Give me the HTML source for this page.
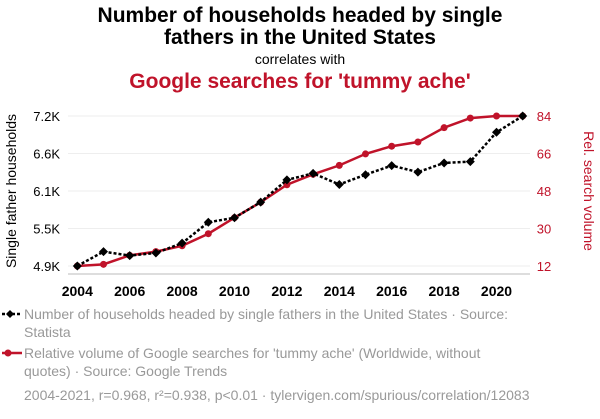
<!DOCTYPE html>
<html><head><meta charset="utf-8"><style>
body{margin:0;background:#fff;font-family:"Liberation Sans",sans-serif;}
svg text{font-family:"Liberation Sans",sans-serif;}
</style></head><body>
<svg width="600" height="414" viewBox="0 0 600 414" xmlns="http://www.w3.org/2000/svg">
<text x="300" y="22" text-anchor="middle" font-size="21" font-weight="bold" fill="#000">Number of households headed by single</text>
<text x="300" y="44" text-anchor="middle" font-size="21" font-weight="bold" fill="#000">fathers in the United States</text>
<text x="300" y="64" text-anchor="middle" font-size="14" fill="#000">correlates with</text>
<text x="300" y="88" text-anchor="middle" font-size="21" font-weight="bold" fill="#c0132a">Google searches for 'tummy ache'</text>
<g id="grid"></g><g id="axes"></g><g id="marks"></g>
<text transform="translate(16,191) rotate(-90)" text-anchor="middle" font-size="14" fill="#000">Single father households</text>
<text transform="translate(584,191) rotate(90)" text-anchor="middle" font-size="14" fill="#c0132a">Rel. search volume</text>
<g>
<line x1="2" y1="314" x2="22" y2="314" stroke="#000" stroke-width="2.5" stroke-dasharray="3,2"/>
<path d="M6 314 l4 -4 l4 4 l-4 4z" fill="#000"/>
<text x="24" y="319" font-size="14" fill="#999">Number of households headed by single fathers in the United States · Source:</text>
<text x="24" y="337" font-size="14" fill="#999">Statista</text></g>
<g>
<line x1="2" y1="353" x2="22" y2="353" stroke="#c0132a" stroke-width="2.5"/>
<circle cx="8" cy="353" r="3.5" fill="#c0132a"/>
<text x="24" y="358" font-size="14" fill="#999">Relative volume of Google searches for 'tummy ache' (Worldwide, without</text>
<text x="24" y="376" font-size="14" fill="#999">quotes) · Source: Google Trends</text></g>
<text x="24" y="400" font-size="14" fill="#999">2004-2021, r=0.968, r²=0.938, p&lt;0.01 · tylervigen.com/spurious/correlation/12083</text>
</svg>
<script>
const years=[2004,2005,2006,2007,2008,2009,2010,2011,2012,2013,2014,2015,2016,2017,2018,2019,2020,2021];
const households=[4.90,5.12,5.06,5.10,5.25,5.57,5.64,5.88,6.22,6.32,6.15,6.30,6.44,6.34,6.48,6.50,6.95,7.20];
const searches=[12,12.8,17.1,18.9,21.7,27.5,35.2,42.6,51,56,60.3,65.8,69.5,71.5,78.4,83,84,84];
const leftTicks=["4.9K","5.5K","6.1K","6.6K","7.2K"];
const rightTicks=[12,30,48,66,84];
const xTicks=[2004,2006,2008,2010,2012,2014,2016,2018,2020];
const NS="http://www.w3.org/2000/svg";
const x=v=>77.3+(v-2004)*(522.7-77.3)/17;
const yL=v=>266-(v-4.9)*150/2.3;
const yR=v=>266-(v-12)*150/72;
function mk(p,t,a){const e=document.createElementNS(NS,t);for(const k in a)e.setAttribute(k,a[k]);p.appendChild(e);return e;}
const grid=document.getElementById('grid'),axes=document.getElementById('axes'),marks=document.getElementById('marks');
rightTicks.forEach((t,i)=>{const y=yR(t);
 const g=mk(grid,'line',{x1:68,x2:530,y1:y,y2:y,stroke:'#eee','stroke-width':1});
 
 
 const l=mk(axes,'text',{x:60,y:y+5,'text-anchor':'end','font-size':13,fill:'#000'});l.textContent=leftTicks[i];
 
 
 const r=mk(axes,'text',{x:544,y:y+5,'text-anchor':'middle','font-size':13,fill:'#c0132a'});r.textContent=t;
 
 
});
const ax=mk(axes,'line',{x1:68,x2:530,y1:274,y2:274,stroke:'#bbb','stroke-width':1});


xTicks.forEach(t=>{const e=mk(axes,'text',{x:x(t),y:296,'text-anchor':'middle','font-size':14,'font-weight':'bold',fill:'#000'});e.textContent=t;
 
 });
const rl=mk(marks,'polyline',{points:years.map((y,i)=>x(y)+','+yR(searches[i])).join(' '),fill:'none',stroke:'#c0132a','stroke-width':2.5});


years.forEach((y,i)=>{const c=mk(marks,'circle',{cx:x(y),cy:yR(searches[i]),r:3.5,fill:'#c0132a'});
 
 });
const bl=mk(marks,'polyline',{points:years.map((y,i)=>x(y)+','+yL(households[i])).join(' '),fill:'none',stroke:'#000','stroke-width':2.5,'stroke-dasharray':'3,2'});


years.forEach((y,i)=>{const cx=x(y),cy=yL(households[i]);const d=mk(marks,'path',{d:`M${cx-4.5} ${cy} L${cx} ${cy-4.5} L${cx+4.5} ${cy} L${cx} ${cy+4.5}Z`,fill:'#000'});
 
 });
</script>
</body></html>
